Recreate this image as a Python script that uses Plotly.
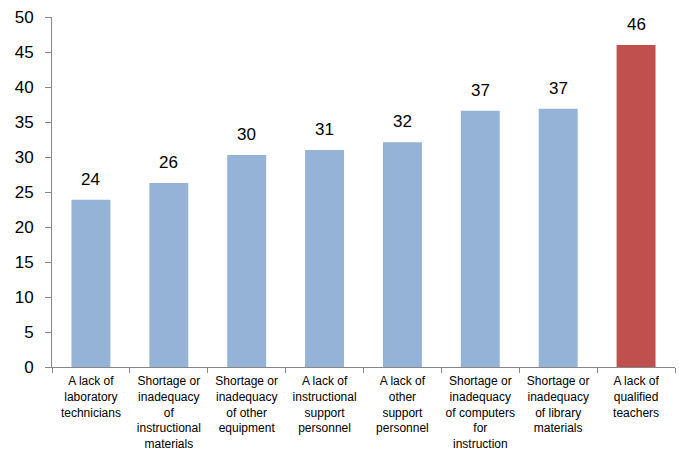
import plotly.graph_objects as go

categories = [
    "A lack of<br>laboratory<br>technicians",
    "Shortage or<br>inadequacy<br>of<br>instructional<br>materials",
    "Shortage or<br>inadequacy<br>of other<br>equipment",
    "A lack of<br>instructional<br>support<br>personnel",
    "A lack of<br>other<br>support<br>personnel",
    "Shortage or<br>inadequacy<br>of computers<br>for<br>instruction",
    "Shortage or<br>inadequacy<br>of library<br>materials",
    "A lack of<br>qualified<br>teachers",
]
values = [23.9, 26.3, 30.3, 31.0, 32.1, 36.6, 36.9, 46.0]
colors = ["#95B3D7"] * 7 + ["#C0504D"]

fig = go.Figure()
fig.add_trace(go.Bar(
    x=categories, y=values, marker=dict(color=colors, line=dict(width=0)),
    width=0.5, showlegend=False, hoverinfo="skip",
))
for c, v in zip(categories, values):
    fig.add_annotation(x=c, y=v, text=f"{round(v):d}", showarrow=False,
                       yanchor="bottom", yshift=9,
                       font=dict(family="Liberation Sans, Arial", size=17, color="#000"))

fig.update_layout(
    width=679, height=450,
    margin=dict(l=52, r=4, t=17, b=83),
    paper_bgcolor="white", plot_bgcolor="white",
    font=dict(family="Liberation Sans, Arial", color="#000"),
)
fig.update_xaxes(
    showline=True, linecolor="#868686", linewidth=1,
    ticks="outside", tickson="boundaries", ticklen=5, tickcolor="#868686",
    tickfont=dict(size=12), showgrid=False, tickangle=0,
    automargin=False, ticklabelstandoff=3,
)
fig.update_yaxes(
    range=[0, 50], dtick=5, showline=True, linecolor="#868686", linewidth=1,
    ticks="outside", ticklen=6, tickcolor="#868686", showgrid=False,
    zeroline=False, tickfont=dict(size=17), automargin=False,
    ticklabelstandoff=8,
)
fig.write_html("out.html", config={"displayModeBar": False},
               post_script="document.body.style.margin='0';document.body.style.overflow='hidden';")
